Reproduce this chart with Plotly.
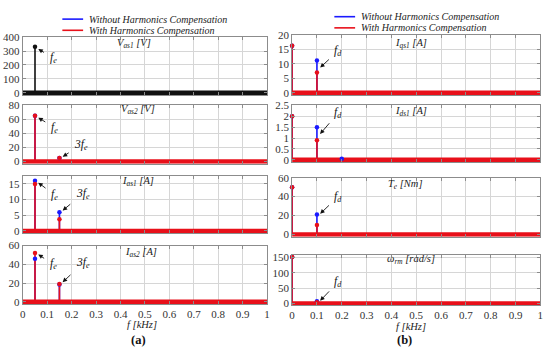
import plotly.graph_objects as go

W, H = 550, 355

# ---------------- data ----------------
freq_tick_vals = [0, 0.1, 0.2, 0.3, 0.4, 0.5, 0.6, 0.7, 0.8, 0.9, 1]
freq_tick_text = ["0", "0.1", "0.2", "0.3", "0.4", "0.5", "0.6", "0.7", "0.8", "0.9", "1"]
freq_span = [0, 1]          # kHz, spectrum floor (all other bins ~0)
floor_vals = [0, 0]

# (a) stator quantities
vas1_freq = [0.05]
vas1_vals = [330]

vas2_freq = [0.05, 0.15]
vas2_without = [65, 5]
vas2_with = [65, 5]

ias1_freq = [0.05, 0.15]
ias1_without = [16.0, 6.0]
ias1_with = [15.0, 3.7]

ias2_freq = [0.05, 0.15]
ias2_without = [46, 18.5]
ias2_with = [52, 19]

# (b) machine quantities
iqs1_freq = [0.0, 0.1]
iqs1_without = [16.3, 11.2]
iqs1_with = [16.3, 7.0]

ids1_freq_without = [0.0, 0.1, 0.2]
ids1_without = [2.0, 1.5, 0.05]
ids1_freq_with = [0.0, 0.1]
ids1_with = [2.0, 0.9]

te_freq = [0.0, 0.1]
te_without = [50, 21]
te_with = [50, 10]

wm_freq = [0.0, 0.1]
wm_without = [152, 7]
wm_with = [152, 4]

BLUE = "#1a1aff"
RED = "#e8101a"
BLACK = "#111111"
SERIF = "'Liberation Serif', 'Times New Roman', 'DejaVu Serif', serif"

fig = go.Figure()


def px2paper(x, y):
    return x / W, 1 - y / H


# panel geometry (pixels): x0, x1, top, zero-line pixel ; y max
panels = [
    # left column
    dict(x0=20, x1=267, top=32, zero=89.3, ymax=400, dtick=100, title="<i>V<sub>as1</sub> [V]</i>", tx=132, ty=39),
    dict(x0=20, x1=267, top=102, zero=160, ymax=80, dtick=20, title="<i>V<sub>as2</sub> [V]</i>", tx=136, ty=107),
    dict(x0=20, x1=267, top=175, zero=231.5, ymax=17.5, dtick=5, title="<i>I<sub>as1</sub> [A]</i>", tx=136, ty=181),
    dict(x0=20, x1=267, top=246.5, zero=304.3, ymax=60, dtick=20, title="<i>I<sub>as2</sub> [A]</i>", tx=140, ty=254),
    # right column
    dict(x0=292.3, x1=543.3, top=30, zero=89.3, ymax=20, dtick=5, title="<i>I<sub>qs1</sub> [A]</i>", tx=413, ty=38.5),
    dict(x0=292.3, x1=543.3, top=102.3, zero=158.3, ymax=2.5, dtick=0.5, title="<i>I<sub>ds1</sub> [A]</i>", tx=413, ty=108.5),
    dict(x0=292.3, x1=543.3, top=176.7, zero=235, ymax=60, dtick=20, title="<i>T<sub>e</sub> [Nm]</i>", tx=407, ty=183.5),
    dict(x0=292.3, x1=543.3, top=256.7, zero=306, ymax=157, dtick=50, title="<i>ω<sub>rm</sub> [rad/s]</i>", tx=413, ty=260.5),
]

EXT = 0.04
TICKFONT = dict(family=SERIF, size=11, color="#333333")
layout_axes = {}
for i, p in enumerate(panels):
    n = i + 1
    xs = "" if n == 1 else str(n)
    bottom_px = p["zero"] + EXT * (p["zero"] - p["top"])
    xd = [p["x0"] / W, p["x1"] / W]
    yd = [1 - bottom_px / H, 1 - p["top"] / H]
    bottom_row = n in (4, 8)
    layout_axes["xaxis" + xs] = dict(
        domain=xd, range=[0, 1], anchor="y" + xs,
        tickvals=freq_tick_vals, ticktext=freq_tick_text,
        showticklabels=bottom_row, showgrid=True, gridcolor="#d6d6d6", gridwidth=1,
        zeroline=False, showline=True, linecolor="#8c8c8c", linewidth=1, mirror="ticks",
        ticks="inside", ticklen=3, tickcolor="#8c8c8c", tickfont=TICKFONT,
    )
    layout_axes["yaxis" + xs] = dict(
        domain=yd, range=[-EXT * p["ymax"], p["ymax"]], anchor="x" + xs,
        tick0=0, dtick=p["dtick"], showgrid=True, gridcolor="#d6d6d6", gridwidth=1,
        zeroline=False, showline=True, linecolor="#8c8c8c", linewidth=1, mirror="ticks",
        ticks="inside", ticklen=3, tickcolor="#8c8c8c", tickfont=TICKFONT,
    )
fig.update_layout(**layout_axes)


def axname(axn):
    return "" if axn == 1 else str(axn)


def stem_lines(freqs, vals, color, axn, lw=1.6):
    xs = axname(axn)
    lx, ly = [], []
    for f, v in zip(freqs, vals):
        lx += [f, f, None]
        ly += [0, v, None]
    fig.add_trace(go.Scatter(x=lx, y=ly, mode="lines", line=dict(color=color, width=lw),
                             xaxis="x" + xs, yaxis="y" + xs, showlegend=False, hoverinfo="skip"))


def stem_markers(freqs, vals, color, axn, ms=4.5):
    xs = axname(axn)
    fig.add_trace(go.Scatter(x=freqs, y=vals, mode="markers", marker=dict(color=color, size=ms),
                             xaxis="x" + xs, yaxis="y" + xs, showlegend=False, cliponaxis=False))


def floor(color, axn):
    xs = axname(axn)
    fig.add_trace(go.Scatter(x=freq_span, y=floor_vals, mode="lines", line=dict(color=color, width=4.5),
                             xaxis="x" + xs, yaxis="y" + xs, showlegend=False, hoverinfo="skip"))


# panel 1 (both identical -> black)
stem_lines(vas1_freq, vas1_vals, BLACK, 1)
floor(BLACK, 1)
stem_markers(vas1_freq, vas1_vals, BLACK, 1)

series = [
    (2, vas2_freq, vas2_without, vas2_freq, vas2_with),
    (3, ias1_freq, ias1_without, ias1_freq, ias1_with),
    (4, ias2_freq, ias2_without, ias2_freq, ias2_with),
    (5, iqs1_freq, iqs1_without, iqs1_freq, iqs1_with),
    (6, ids1_freq_without, ids1_without, ids1_freq_with, ids1_with),
    (7, te_freq, te_without, te_freq, te_with),
    (8, wm_freq, wm_without, wm_freq, wm_with),
]
for axn, fw, vw, fr, vr in series:
    stem_lines(fw, vw, BLUE, axn)
    stem_lines(fr, vr, RED, axn)
    floor(RED, axn)
    stem_markers(fw, vw, BLUE, axn)
    stem_markers(fr, vr, RED, axn)

annotations = []
shapes = []

# panel titles
for p in panels:
    x, y = px2paper(p["tx"], p["ty"])
    annotations.append(dict(x=x, y=y, xref="paper", yref="paper", text=p["title"], showarrow=False,
                            xanchor="center", yanchor="middle",
                            font=dict(family=SERIF, size=10.5, color="#222222")))

# harmonic labels with arrows: (axis n, head x, head y, text x, text y, text)
FE = "<i>f<sub>e</sub></i>"
FE3 = "<i>3f<sub>e</sub></i>"
FD = "<i>f<sub>d</sub></i>"
arrows = [
    (1, 0.06, 318, 0.125, 250, FE),
    (2, 0.06, 63, 0.13, 48, FE),
    (2, 0.16, 6, 0.24, 24, FE3),
    (3, 0.06, 15.6, 0.13, 11.5, FE),
    (3, 0.16, 6.3, 0.245, 11.8, FE3),
    (4, 0.06, 51, 0.125, 40, FE),
    (4, 0.16, 20, 0.245, 41, FE3),
    (5, 0.11, 8.5, 0.185, 14.5, FD),
    (6, 0.11, 1.15, 0.185, 2.15, FD),
    (7, 0.11, 21, 0.185, 40, FD),
    (8, 0.11, 6, 0.185, 70, FD),
]
for axn, hx, hy, tx, ty, txt in arrows:
    xs = axname(axn)
    annotations.append(dict(x=hx, y=hy, xref="x" + xs, yref="y" + xs, ax=tx, ay=ty,
                            axref="x" + xs, ayref="y" + xs, text=txt, showarrow=True,
                            arrowhead=2, arrowsize=1, arrowwidth=0.9, arrowcolor="#111111",
                            standoff=1, startstandoff=5,
                            font=dict(family=SERIF, size=11.5, color="#111111")))

# x-axis titles and panel letters
for fx, fy, lx, ly, letter in ((141, 327.5, 137, 343.5, "(a)"), (413, 329.5, 406, 344, "(b)")):
    x, y = px2paper(fx, fy)
    annotations.append(dict(x=x, y=y, xref="paper", yref="paper", text="<i>f [kHz]</i>", showarrow=False,
                            xanchor="center", yanchor="middle",
                            font=dict(family=SERIF, size=10.5, color="#222222")))
    x, y = px2paper(lx, ly)
    annotations.append(dict(x=x, y=y, xref="paper", yref="paper", text="<b>" + letter + "</b>", showarrow=False,
                            xanchor="center", yanchor="middle",
                            font=dict(family=SERIF, size=12.5, color="#111111")))

# legends (one per column)
legend_items = [("Without Harmonics Compensation", BLUE), ("With Harmonics Compensation", RED)]
for lx0, lx1, ly0 in ((60, 81, 13.5), (335, 356, 11)):
    for k, (name, col) in enumerate(legend_items):
        yy = ly0 + k * 11.5
        a, b = px2paper(lx0, yy)
        c, _ = px2paper(lx1, yy)
        shapes.append(dict(type="line", xref="paper", yref="paper", x0=a, x1=c, y0=b, y1=b,
                           line=dict(color=col, width=1.6)))
        tx, ty = px2paper(lx1 + 4, yy)
        annotations.append(dict(x=tx, y=ty, xref="paper", yref="paper", text="<i>" + name + "</i>",
                                showarrow=False, xanchor="left", yanchor="middle",
                                font=dict(family=SERIF, size=10, color="#222222")))

fig.update_layout(
    width=W, height=H, margin=dict(l=0, r=0, t=0, b=0),
    paper_bgcolor="white", plot_bgcolor="white",
    showlegend=False, annotations=annotations, shapes=shapes,
)

fig.write_html("out.html", config={"displayModeBar": False},
               post_script="document.body.style.margin='0px';document.body.style.padding='0px';")
